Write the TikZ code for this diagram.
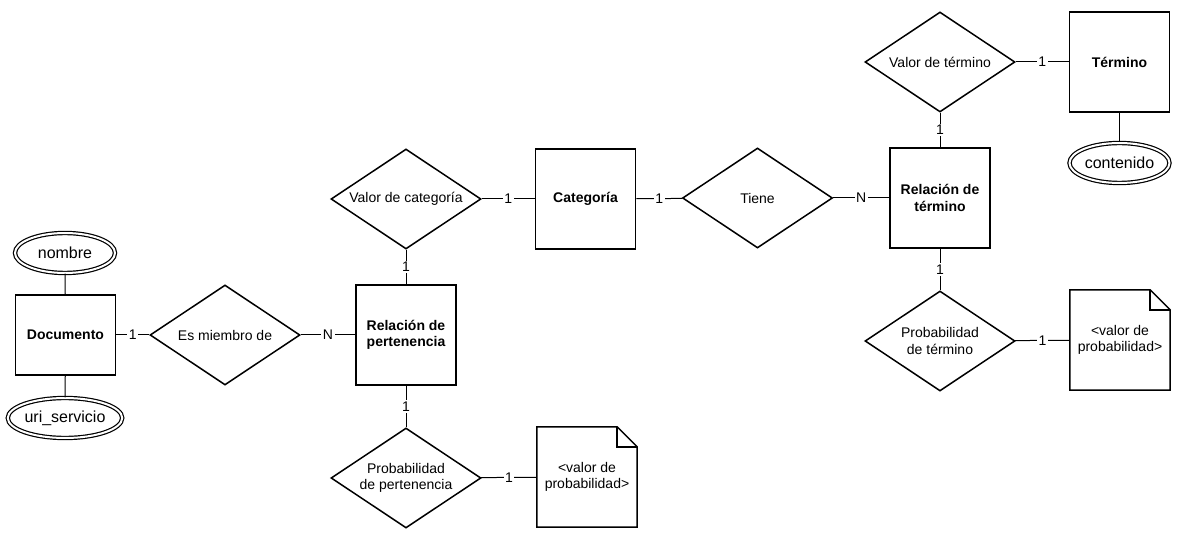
\documentclass[tikz,border=0pt]{standalone}
\usepackage{fontspec}
\setmainfont{Liberation Sans}
\usetikzlibrary{shapes.geometric}
\newcommand\erfont{\fontsize{14pt}{16.5pt}\selectfont}
\newcommand\attrfont{\fontsize{16pt}{19pt}\selectfont}
\begin{document}
\begin{tikzpicture}[x=1pt,y=-1pt,
  every node/.style={font=\erfont},
  ent/.style={draw, line width=1.5pt, minimum width=100pt, minimum height=100pt, inner sep=0pt, font=\erfont\bfseries, align=center},
  rel/.style={draw, diamond, aspect=1.5, line width=1.5pt, minimum width=150pt, minimum height=100pt, inner sep=0pt, align=center},
  attr/.style={draw, ellipse, double, double distance=2pt, line width=1.2pt, minimum width=100pt, minimum height=40pt, inner sep=0pt, font=\attrfont},
  notebox/.style={minimum width=100pt, minimum height=100pt, inner sep=0pt, align=center},
  noteline/.style={line width=1.5pt, line join=miter},
  conn/.style={line width=1pt},
  card/.style={fill=white, inner sep=1.5pt, midway}
]
\useasboundingbox (0,0) rectangle (1184,537);

% entities
\node[ent, minimum height=80pt] (doc) at (65.5,335) {Documento};
\node[ent] (relp) at (406,335) {Relación de\\pertenencia};
\node[ent] (cat) at (585.5,199) {Categoría};
\node[ent] (relt) at (940,198) {Relación de\\término};
\node[ent] (ter) at (1119.5,62) {Término};

% attributes
\node[attr] (nombre) at (65,253) {nombre};
\node[attr] (uri) at (65,418) {uri\_servicio};
\node[attr] (cont) at (1119.5,163) {contenido};

% relationships
\node[rel] (esm) at (225,335) {Es miembro de};
\node[rel] (vcat) at (406,199) {Valor de categoría};
\node[rel] (tiene) at (757.5,198) {Tiene};
\node[rel] (vter) at (940,62) {Valor de término};
\node[rel] (pter) at (940,341) {Probabilidad\\de término};
\node[rel] (ppert) at (406,478) {Probabilidad\\de pertenencia};

% notes
\node[notebox] (note1) at (587,477) {<valor de\\probabilidad>};
\node[notebox] (note2) at (1120,340) {<valor de\\probabilidad>};
\foreach \n in {note1,note2}{
  \draw[noteline] (\n.north west) -- ([xshift=-20pt]\n.north east) -- ([yshift=-20pt]\n.north east) -- (\n.south east) -- (\n.south west) -- cycle;
  \draw[noteline] ([xshift=-20pt]\n.north east) -- ([xshift=-20pt,yshift=-20pt]\n.north east) -- ([yshift=-20pt]\n.north east);
}

% connectors
\draw[conn] (nombre) -- (doc);
\draw[conn] (doc) -- (uri);
\draw[conn] (ter) -- (cont);
\draw[conn] (doc) -- node[card] {1} (esm);
\draw[conn] (esm) -- node[card] {N} (relp);
\draw[conn] (vcat) -- node[card] {1} (relp);
\draw[conn] (vcat) -- node[card] {1} (cat);
\draw[conn] (cat) -- node[card] {1} (tiene);
\draw[conn] (tiene) -- node[card] {N} (relt);
\draw[conn] (vter) -- node[card] {1} (ter);
\draw[conn] (vter) -- node[card] {1} (relt);
\draw[conn] (relt) -- node[card] {1} (pter);
\draw[conn] (pter) -- node[card] {1} (note2);
\draw[conn] (relp) -- node[card] {1} (ppert);
\draw[conn] (ppert) -- node[card] {1} (note1);
\end{tikzpicture}
\end{document}
